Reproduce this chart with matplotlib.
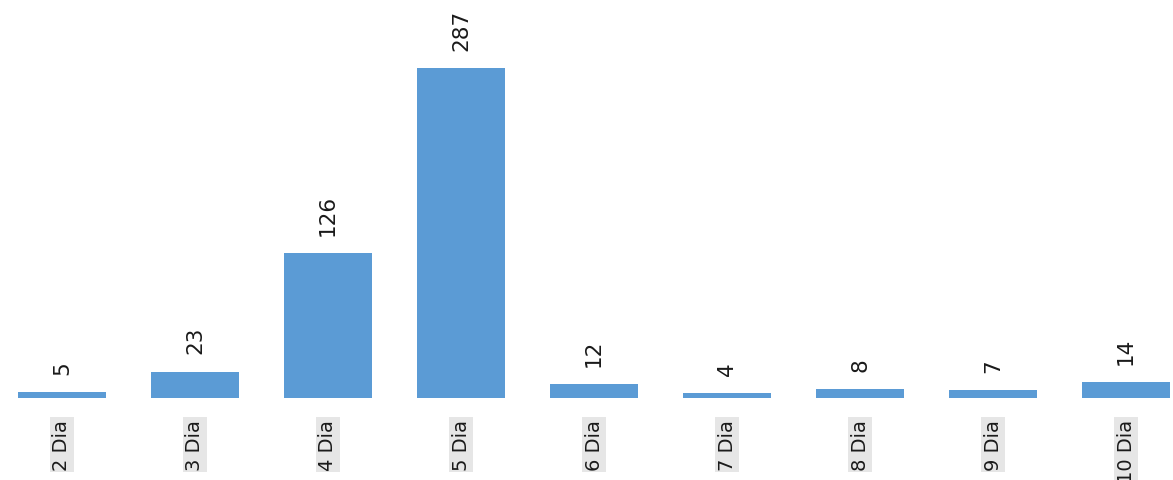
import matplotlib.pyplot as plt

categories = ['2 Dia', '3 Dia', '4 Dia', '5 Dia', '6 Dia', '7 Dia', '8 Dia', '9 Dia', '10 Dia']
values = [5, 23, 126, 287, 12, 4, 8, 7, 14]

fig = plt.figure(figsize=(11.73, 4.81), dpi=100)
ax = fig.add_axes([0, 1 - 399 / 481, 1, 399 / 481])

x = range(len(categories))
bars = ax.bar(x, values, width=0.66, color='#5B9BD5')
ax.bar_label(bars, labels=[str(v) for v in values], padding=13,
             rotation=90, fontsize=15.5, color='#1a1a1a')

ax.set_xlim(-0.466, 8.353)
ax.set_ylim(0, 347)
ax.set_xticks(list(x))
ax.set_xticklabels(categories, rotation=90, fontsize=14, color='#1a1a1a',
                   va='top', ha='center')
for lbl in ax.get_xticklabels():
    lbl.set_bbox(dict(facecolor='#e6e6e6', edgecolor='none', pad=1.5))
ax.tick_params(axis='x', length=0, pad=15)
ax.set_yticks([])
for s in ax.spines.values():
    s.set_visible(False)

fig.savefig('out.png', dpi=100)
